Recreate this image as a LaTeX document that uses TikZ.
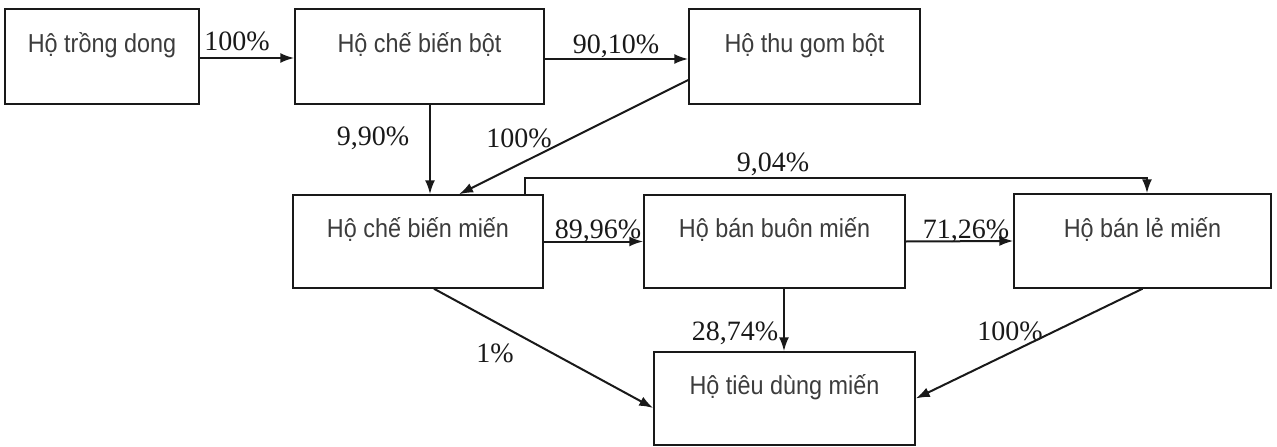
\documentclass[tikz,border=0pt]{standalone}
\usepackage{fontspec}
\setmainfont{Liberation Serif}
\newfontfamily\boxfont[FakeStretch=0.9]{Liberation Sans}
\usetikzlibrary{arrows.meta}
\definecolor{ink}{gray}{0.1}
\tikzset{
  hbox/.style={draw=ink, line width=1.5pt, rectangle, inner sep=0pt,
    font=\boxfont\fontsize{26}{30}\selectfont, text=ink!85!white,
    text height=19pt, text depth=27pt},
  flow/.style={draw=ink, line width=2pt, -{Latex[length=14pt,width=10pt]}},
  pct/.style={inner sep=0pt, text=ink, font=\fontsize{28}{32}\selectfont}
}
\begin{document}
\begin{tikzpicture}[x=1pt, y=-1pt]
\useasboundingbox (0,0) rectangle (1277,447);

% households along the supply chain
\node[hbox, minimum width=194pt, minimum height=95pt] (trong) at (102,56.5) {Hộ trồng dong};
\node[hbox, minimum width=249pt, minimum height=95pt] (chebot) at (419.5,56.5) {Hộ chế biến bột};
\node[hbox, minimum width=231pt, minimum height=95pt] (thugom) at (804.5,56.5) {Hộ thu gom bột};
\node[hbox, minimum width=250pt, minimum height=93pt] (chemien) at (418,241.5) {Hộ chế biến miến};
\node[hbox, minimum width=261pt, minimum height=93pt] (buon) at (774.5,241.5) {Hộ bán buôn miến};
\node[hbox, minimum width=257pt, minimum height=94pt] (le) at (1142.5,241) {Hộ bán lẻ miến};
\node[hbox, minimum width=261pt, minimum height=93pt] (tieudung) at (784.5,398.5) {Hộ tiêu dùng miến};

% helper points
\coordinate (railY) at (0,178);
\coordinate (d1) at ([xshift=107pt]chemien.north);
\coordinate (f1) at ([xshift=4.5pt]le.north);
\coordinate (e1) at ([xshift=9.5pt]buon.south);

% flows
\draw[flow] ([yshift=-1.5pt]trong.east) -- ([yshift=-1.5pt]chebot.west);
\draw[flow] ([yshift=-2.5pt]chebot.east) -- ([yshift=-2.5pt]thugom.west);
\draw[flow] ([xshift=10.5pt]chebot.south) -- ([xshift=12pt]chemien.north);
\draw[flow] ([yshift=-23.5pt]thugom.west) -- ([xshift=41pt]chemien.north);
\draw[flow] (chemien.east) -- (buon.west);
\draw[flow] (buon.east) -- (le.west);
\draw[flow] (d1) -- (d1 |- railY) -- (f1 |- railY) -- (f1);
\draw[flow] (e1) -- (e1 |- tieudung.north);
\draw[flow] ([xshift=16pt]chemien.south) -- ([yshift=-9.5pt]tieudung.west);
\draw[flow] (le.south) -- (tieudung.east);

% shares
\node[pct] (p1) at (237,41) {100\%};
\node[pct] (p2) at (616,46) {90,10\%};
\node[pct] (p3) at (373,138) {9,90\%};
\node[pct] (p4) at (519,138) {100\%};
\node[pct] (p5) at (773,164) {9,04\%};
\node[pct] (p6) at (598,231) {89,96\%};
\node[pct] (p7) at (966,231) {71,26\%};
\node[pct] (p8) at (735,333) {28,74\%};
\node[pct] (p9) at (495,353) {1\%};
\node[pct] (p10) at (1010,331) {100\%};
\end{tikzpicture}
\end{document}
